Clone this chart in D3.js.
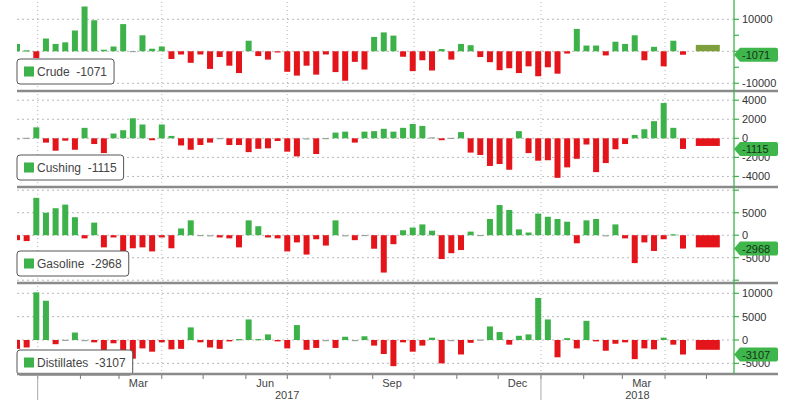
<!DOCTYPE html>
<html><head><meta charset="utf-8">
<script src="https://cdn.jsdelivr.net/npm/d3@7"></script>
<style>
body{margin:0;background:#fff;}
svg{display:block;font-family:"Liberation Sans",Arial,sans-serif;}
</style></head>
<body><svg id="c" width="800" height="400"></svg>
<script>
// ---- data (weekly changes, thousand barrels) ----
const firstWeek = "2016-12-17";
const crude = [2300,300,-2100,4000,2300,2800,6500,14000,9700,500,1500,8500,100,5000,800,1500,-2400,-1000,-3600,-1000,-5500,-1800,-4500,-6800,3300,-1500,-2600,-200,-6400,-7600,-4500,-7300,-1000,-6500,-9200,-3300,-5700,4500,5900,4900,-1700,-6200,-2800,-6000,700,-2600,2300,1900,-1800,-3400,-5900,-5300,-6800,-4700,-7800,-5000,-7000,-700,7000,1800,1800,-1300,3000,2300,5000,-2800,1400,-4700,3300,-1071];
const cushing = [-100,50,1150,-450,-1300,-250,-1200,1100,-600,-1550,500,850,2100,1450,-200,1450,250,-750,-1200,-700,-450,30,-700,-700,-1450,-1100,-1050,-280,-1400,-1900,-50,-1650,30,600,700,-450,700,750,1000,700,1100,1500,1300,100,-200,50,650,-1500,-1750,-2900,-2700,-3300,750,-1550,-2350,-2300,-4150,-3050,-2150,-650,-3550,-2600,-1150,-600,350,950,1800,3700,1100,-1115];
const gasoline = [-1100,-1300,8300,5000,6000,6800,4000,-700,2800,-2700,-500,-6400,-2900,-2700,-3600,-500,-2900,1500,3300,50,0,-500,-700,-2700,3300,2000,-500,-700,-3600,-1600,-4300,-900,-2300,3300,0,-1100,50,-3000,-8300,-2000,1100,1700,2400,1000,-5300,-4000,-3300,800,50,3600,6700,5600,1300,600,4800,4100,3600,3000,-1800,3300,3600,0,2400,-700,-6200,-1600,-3500,-900,200,-2968];
const distillates = [-1900,-1600,10200,8400,-900,50,1600,0,-500,-2300,-700,-2300,-4000,-1800,-2500,-500,-2000,-1900,2700,-500,-1600,-1900,-300,200,4400,200,1200,-300,-1800,3200,-2100,-1700,0,-1700,700,0,800,-1200,-3000,-5600,-500,-2500,-1200,500,-5000,-100,-3100,-600,100,2900,1700,-1000,900,1200,9000,4400,-3700,400,-1800,4100,-300,-2300,-800,-500,-4100,-1800,-2000,500,-1000,-3107];
const seriesNames = ["Crude","Cushing","Gasoline","Distillates"];
const latestLabels = ["-1071","-1115","-2968","-3107"];
const wideBarDate = "2018-05-02";
const wideBarValues = [2000,-800,-2700,-2100];
const axisTicks = [[10000,-10000],[4000,2000,0,-2000,-4000],[5000,0,-5000],[10000,5000,0,-5000]];
const minorTicks = [[5000,0,-5000],[],[10000,-10000],[]];
const gridVals = [[10000,0,-10000],[4000,2000,0,-2000,-4000],[10000,5000,0,-5000,-10000],[10000,5000,0,-5000]];
const monthLabels = [["2017-03-15","Mar"],["2017-06-15","Jun"],["2017-09-15","Sep"],["2017-12-15","Dec"],["2018-03-15","Mar"]];
const yearLabels = [["2017-07-01","2017"],["2018-03-12","2018"]];

// ---- layout ----
const svg = d3.select("#c");
const L = 17, R = 734;
const GREEN = "#3db24a", RED = "#e3141a", OLIVE = "#7e9f3c";
const panels = [
  {top:0, bottom:91, domain:[-12410,16030]},
  {top:92, bottom:187, domain:[-5110,4860]},
  {top:188, bottom:283, domain:[-10620,10490]},
  {top:284, bottom:374, domain:[-7280,11990]}
];
const parse = d3.timeParse("%Y-%m-%d");
const x = d3.scaleTime().domain([new Date(2016,11,17), new Date(2018,4,21)]).range([L,R]);
const start = parse(firstWeek);
const dates = crude.map((_,i)=>d3.timeDay.offset(start, 7*i));
const data = [crude,cushing,gasoline,distillates];

svg.append("defs").append("clipPath").attr("id","clip")
  .append("rect").attr("x",L).attr("y",0).attr("width",R-L).attr("height",400);

const quarterLines = [new Date(2017,0,1),new Date(2017,3,1),new Date(2017,6,1),new Date(2017,9,1),new Date(2018,0,1),new Date(2018,3,1)];

panels.forEach((p,k)=>{
  const y = d3.scaleLinear().domain(p.domain).range([p.bottom,p.top]);
  const g = svg.append("g");
  g.selectAll(".vg").data(quarterLines).join("line")
    .attr("x1",d=>x(d)).attr("x2",d=>x(d)).attr("y1",p.top+2).attr("y2",p.bottom-1)
    .attr("stroke","#b8b8b8").attr("stroke-width",1).attr("stroke-dasharray","1,3");
  g.selectAll(".hg").data(gridVals[k]).join("line")
    .attr("x1",L).attr("x2",R).attr("y1",d=>y(d)).attr("y2",d=>y(d))
    .attr("stroke","#b8b8b8").attr("stroke-width",1).attr("stroke-dasharray","2,3");
  const bg = g.append("g").attr("clip-path","url(#clip)");
  bg.selectAll("rect").data(data[k]).join("rect")
    .attr("x",(d,i)=>x(dates[i])-3).attr("width",6)
    .attr("y",d=>Math.min(y(d),y(0)))
    .attr("height",d=>Math.max(1.2,Math.abs(y(d)-y(0))))
    .attr("fill",d=>Math.abs(d)<120?"#9aa39a":(d>=0?GREEN:RED));
  const wv = wideBarValues[k];
  g.append("rect").attr("x",x(parse(wideBarDate))-12).attr("width",24)
    .attr("y",Math.min(y(wv),y(0))).attr("height",Math.abs(y(wv)-y(0)))
    .attr("fill",wv>=0?OLIVE:RED);
  const ax = svg.append("g");
  ax.selectAll(".t").data(axisTicks[k].concat(minorTicks[k])).join("line")
    .attr("x1",R).attr("x2",R+5).attr("y1",d=>y(d)).attr("y2",d=>y(d))
    .attr("stroke",GREEN).attr("stroke-width",1.2);
  ax.selectAll("text").data(axisTicks[k]).join("text")
    .attr("x",R+8).attr("y",d=>y(d)+4).attr("font-size",11).attr("fill","#333")
    .text(d=>d);
  const v = data[k][data[k].length-1];
  const cy = y(v);
  const tg = svg.append("g");
  tg.append("path").attr("d",`M${R},${cy} L${R+6},${cy-7} L${R+42},${cy-7} Q${R+44},${cy-7} ${R+44},${cy-5} L${R+44},${cy+5} Q${R+44},${cy+7} ${R+42},${cy+7} L${R+6},${cy+7} Z`)
    .attr("fill","#3fb64b");
  tg.append("text").attr("x",R+8).attr("y",cy+4).attr("font-size",11).attr("fill","#15331a").text(latestLabels[k]);
  const lg = svg.append("g");
  const box = lg.append("rect").attr("x",L).attr("rx",3).attr("ry",3)
    .attr("fill","#fff").attr("stroke","#555").attr("stroke-width",1);
  const lt = lg.append("text").attr("x",L+20).attr("font-size",12).attr("fill","#444")
    .attr("xml:space","preserve").text(seriesNames[k]+"  "+latestLabels[k]);
  const bh = 25;
  const by = p.bottom - bh - 7 + (k===3?8:0);
  box.attr("y",by).attr("height",bh).attr("width",lt.node().getComputedTextLength()+27);
  lt.attr("y",by+bh/2+4);
  lg.append("rect").attr("x",L+7).attr("y",by+bh/2-5).attr("width",10).attr("height",10).attr("fill",GREEN);
});

[91,187,283,374].forEach(yy=>{
  svg.append("line").attr("x1",L).attr("x2",778).attr("y1",yy).attr("y2",yy)
    .attr("stroke","#8a8a8a").attr("stroke-width",2.5);
});
svg.append("line").attr("x1",R).attr("x2",R).attr("y1",0).attr("y2",374)
  .attr("stroke",GREEN).attr("stroke-width",1.3);

const months = d3.timeMonth.range(new Date(2017,0,1), new Date(2018,4,2));
svg.selectAll(".mt").data(months).join("line")
  .attr("x1",d=>x(d)).attr("x2",d=>x(d)).attr("y1",375).attr("y2",379)
  .attr("stroke","#777").attr("stroke-width",1);
svg.selectAll(".yl").data([new Date(2017,0,1),new Date(2018,0,1)]).join("line")
  .attr("x1",d=>x(d)).attr("x2",d=>x(d)).attr("y1",375).attr("y2",400)
  .attr("stroke","#aaa").attr("stroke-width",1);
svg.selectAll(".ml").data(monthLabels).join("text")
  .attr("x",d=>x(parse(d[0]))).attr("y",387).attr("text-anchor","middle")
  .attr("font-size",11).attr("fill","#444").text(d=>d[1]);
svg.selectAll(".yt").data(yearLabels).join("text")
  .attr("x",d=>x(parse(d[0]))).attr("y",399).attr("text-anchor","middle")
  .attr("font-size",11).attr("fill","#444").text(d=>d[1]);
</script></body></html>
